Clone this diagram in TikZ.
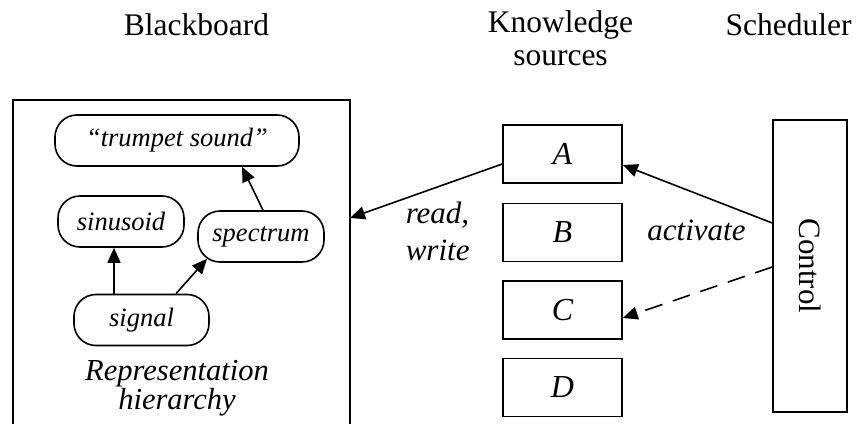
\documentclass[tikz,border=0pt]{standalone}
\usepackage{fontspec}
\setmainfont{Liberation Serif}
\usetikzlibrary{arrows.meta}
\newcommand\tightlines{\lineskiplimit=-50pt\relax\lineskip=0pt\relax}
\begin{document}
\begin{tikzpicture}[x=1pt,y=-1pt,
  line width=1.6pt,
  heading/.style={font=\fontsize{31.5}{33}\selectfont, inner sep=0pt, align=center},
  level/.style={draw, rounded corners=22pt, minimum height=51pt, inner sep=0pt,
                font=\fontsize{26.5}{30}\selectfont\itshape},
  ksbox/.style={draw, minimum width=119pt, minimum height=58pt, inner sep=0pt,
                font=\fontsize{32}{34}\selectfont\itshape},
  arr/.style={-{Triangle[length=15pt,width=13pt]}},
  lbl/.style={font=\fontsize{31}{37}\selectfont\itshape, inner sep=0pt}]
\useasboundingbox (0,0) rectangle (856,423);

% column headings
\node[heading, anchor=base] (hbb) at (196.5,35) {Blackboard};
\node[heading, anchor=center] (hks) at (560.5,38) {Knowledge\\sources};
\node[heading, anchor=base] (hsc) at (788.5,35) {Scheduler};

% blackboard frame, open at the bottom
\draw (13,424) -- (13,100) -- (350,100) -- (350,424);
\coordinate (bbR) at (350,218);

% representation hierarchy
\node[level, minimum width=244pt] (trumpet) at (177,140.5) {``trumpet sound''};
\node[level, minimum width=126pt] (sinusoid) at (121,221.5) {sinusoid};
\node[level, minimum width=126pt] (spectrum) at (261,236.5) {spectrum};
\node[level, minimum width=135pt] (signal) at (141.5,320) {signal};
\node[font=\fontsize{30.5}{29}\selectfont\itshape\tightlines,
      align=center, inner sep=0pt] (rep)
  at (177,388) {Representation\\hierarchy};

\draw[arr] ([xshift=-27.5pt]signal.north) -- ([xshift=-7pt]sinusoid.south);
\draw[arr] ([xshift=34.5pt]signal.north) -- ([xshift=-54pt,yshift=4pt]spectrum.south);
\draw[arr] ([xshift=2pt]spectrum.north) -- ([xshift=65pt]trumpet.south);

% knowledge sources
\node[ksbox] (A) at (562.5,154) {A};
\node[ksbox] (B) at (562.5,232.5) {B};
\node[ksbox] (C) at (562.5,310) {C};
\node[ksbox] (D) at (562.5,387.5) {D};

% scheduler
\node[draw, minimum width=74pt, minimum height=292pt, inner sep=0pt,
      font=\fontsize{31}{33}\selectfont] (ctrl) at (810,266) {\rotatebox{-90}{Control}};

% connectors
\draw[arr] ([yshift=-10pt]A.west) -- (bbR);
\draw[arr] ([yshift=43pt]ctrl.west) -- ([yshift=-11pt]A.east);
\draw[arr, dash pattern=on 18pt off 11pt] ([yshift=-1pt]ctrl.west) -- ([yshift=-8pt]C.east);

% connector labels
\node[lbl, align=left, anchor=north west] (rw) at (405,201) {read,\\write};
\node[lbl, anchor=base] (act) at (696.5,240) {activate};
\end{tikzpicture}
\end{document}
